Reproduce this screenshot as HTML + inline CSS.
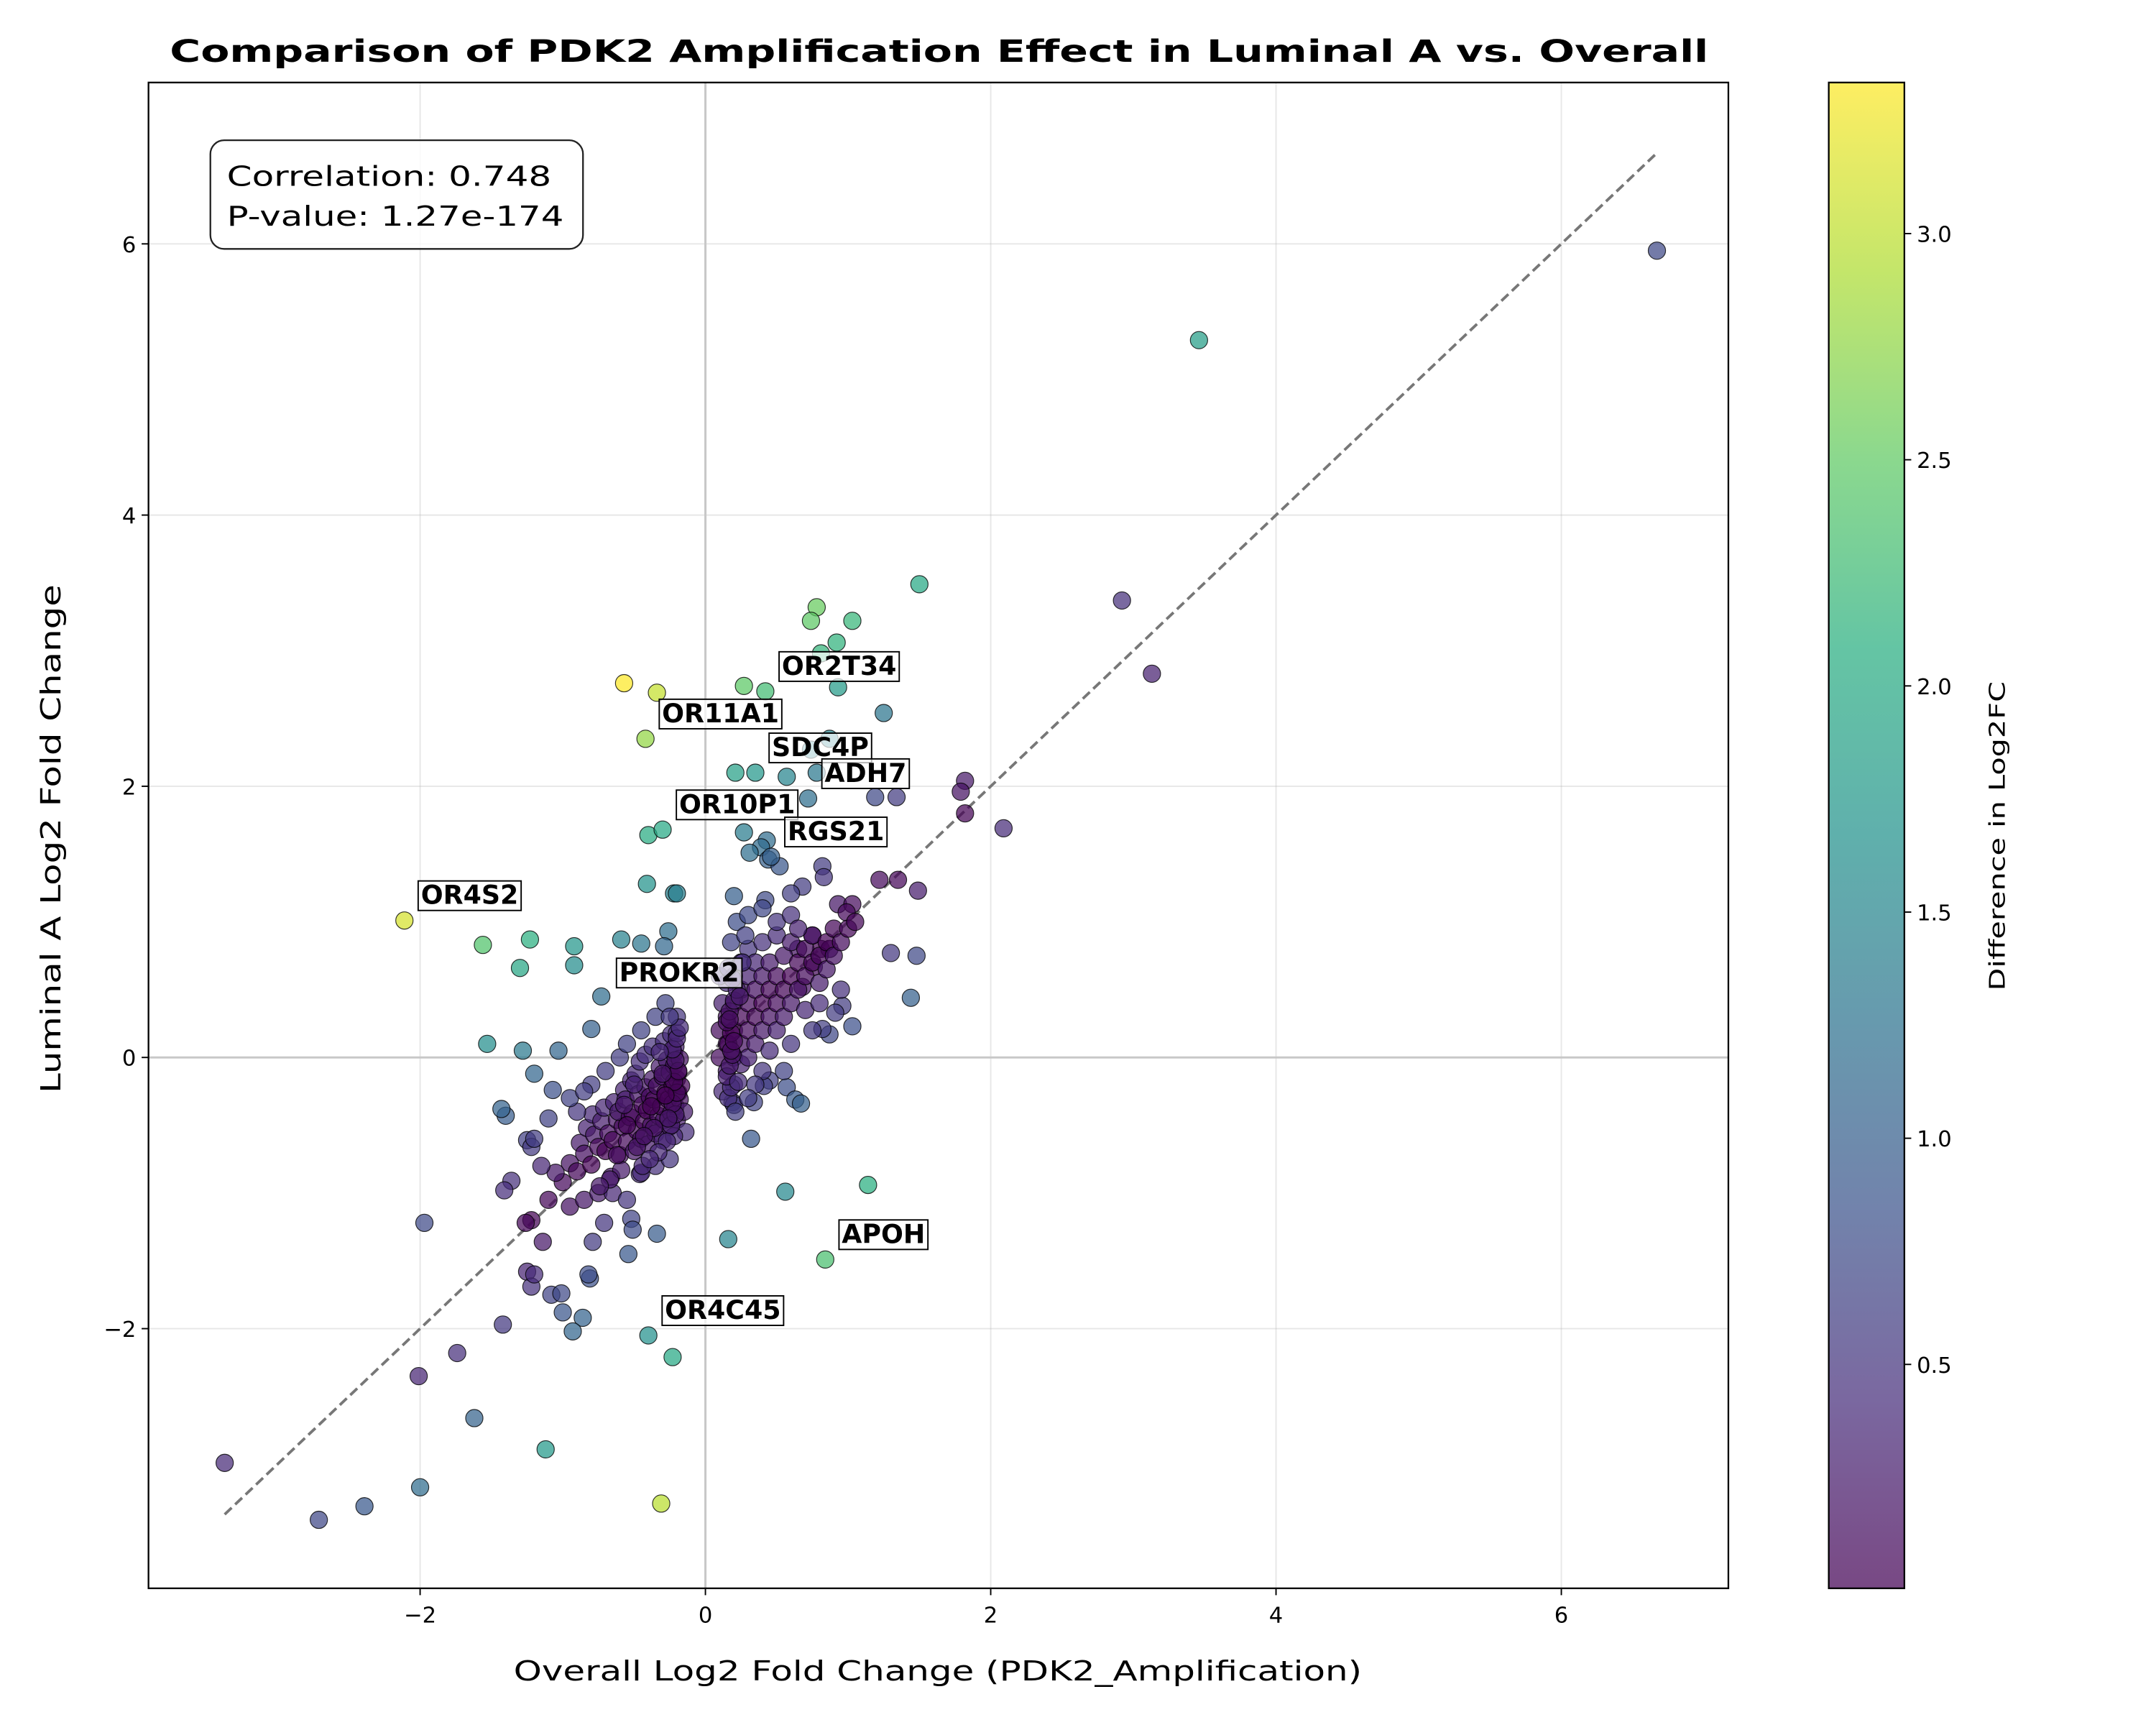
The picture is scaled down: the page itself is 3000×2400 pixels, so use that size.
<!DOCTYPE html>
<html><head><meta charset="utf-8">
<style>
html,body{margin:0;padding:0;background:#fff;}
svg{display:block;font-family:"DejaVu Sans","Liberation Sans",sans-serif;}
</style></head>
<body>
<svg id="chart" width="3000" height="2400" viewBox="0 0 1568 1254.4" xmlns="http://www.w3.org/2000/svg">
<rect x="0" y="0" width="1568" height="1254.4" fill="#fff"/>
<text x="683" y="45" font-size="22.5" font-weight="bold" text-anchor="middle" textLength="1119" lengthAdjust="spacingAndGlyphs">Comparison of PDK2 Amplification Effect in Luminal A vs. Overall</text>
<g id="grid"></g>
<g id="zero"></g>
<g id="diag"></g>
<g id="pts"></g>
<g id="labels"></g>
<rect x="108" y="60" width="1149" height="1095" fill="none" stroke="#000" stroke-width="1.2"/>
<g id="xticks"></g>
<g id="yticks"></g>
<text x="682" y="1222" font-size="20" text-anchor="middle" textLength="617" lengthAdjust="spacingAndGlyphs">Overall Log2 Fold Change (PDK2_Amplification)</text>
<text transform="translate(44,610) rotate(-90)" font-size="20" text-anchor="middle" textLength="370" lengthAdjust="spacingAndGlyphs">Luminal A Log2 Fold Change</text>
<g>
<rect x="153" y="102" width="271" height="79" rx="10" ry="10" fill="#fff" fill-opacity="0.8" stroke="#222" stroke-width="1.2"/>
<text x="165" y="135" font-size="20" textLength="236" lengthAdjust="spacingAndGlyphs">Correlation: 0.748</text>
<text x="165" y="164" font-size="20" textLength="245" lengthAdjust="spacingAndGlyphs">P-value: 1.27e-174</text>
</g>
<defs><linearGradient id="vir" x1="0" y1="1" x2="0" y2="0"></linearGradient></defs>
<g id="cbar"></g>
<text transform="translate(1458,608) rotate(-90)" font-size="16" text-anchor="middle" textLength="225" lengthAdjust="spacingAndGlyphs">Difference in Log2FC</text>
</svg>
<script>
// ---- data ----
const overallX = [6.67,3.46,2.92,3.13,2.09,1.82,1.79,1.82,1.50,1.03,0.78,0.74,0.92,0.81,0.93,0.27,0.42,-0.57,-0.34,-0.42,1.25,0.87,0.74,0.21,0.35,0.57,0.78,1.19,1.34,0.27,0.43,0.39,0.31,-0.40,-0.30,0.44,0.52,0.82,0.83,0.68,0.60,0.42,0.20,-0.41,-0.22,-0.20,1.22,1.35,1.49,0.93,1.03,-2.11,-1.56,-1.23,-1.30,-0.92,-0.92,-0.59,-0.26,-0.29,-0.45,1.30,1.48,1.44,1.03,-0.73,-0.80,-1.53,-1.28,-1.03,-1.20,-1.07,-1.40,-1.43,-1.25,-1.22,-1.36,-1.41,-1.22,-1.26,-1.14,-1.97,-1.25,-1.22,-1.20,-1.08,-1.01,-1.00,-0.86,-0.93,-0.81,-0.82,-0.79,-0.71,-0.52,-0.51,-0.54,-0.34,-1.42,-1.74,-2.01,-1.62,-1.12,-2.00,-3.37,-2.71,-2.39,-0.31,-0.40,-0.23,0.16,0.56,1.14,0.84,0.32,0.57,0.63,0.67,0.45,0.41,0.19,0.34,0.87,0.82,0.96,0.91,0.68,0.65,0.76,0.81,0.75,0.87,0.99,0.72,0.46,
-1.0,-0.95,-0.9,-0.88,-0.85,-0.83,-0.8,-0.78,-0.79,-0.75,-0.73,-0.7,-0.68,-0.71,-0.66,-0.65,-0.62,-0.64,-0.6,-0.58,-0.61,-0.57,-0.59,-0.55,-0.53,-0.56,-0.52,-0.5,-0.48,-0.51,-0.47,-0.49,-0.46,-0.45,-0.43,-0.44,-0.42,-0.46,-0.4,-0.38,-0.41,-0.39,-0.37,-0.42,-0.35,-0.33,-0.36,-0.34,-0.32,-0.37,-0.3,-0.29,-0.31,-0.28,-0.3,-0.27,-0.29,-0.25,-0.24,-0.26,-0.23,-0.25,-0.22,-0.24,-0.2,-0.21,-0.19,-0.2,-0.22,-0.21,-0.18,-0.17,-0.19,-0.18,-0.2,-0.14,-0.15,-1.1,-1.05,-1.15,-0.95,-0.85,-0.75,-0.65,-0.55,-0.45,-0.35,-0.25,-0.9,-0.8,-0.7,-0.6,-0.55,-0.45,-0.35,-0.28,-0.2,-1.2,-1.1,-0.95,-0.85,
-0.22,-0.24,-0.21,-0.23,-0.2,-0.22,-0.19,-0.21,-0.23,-0.2,-0.18,-0.25,-0.27,-0.26,-0.28,-0.3,-0.32,-0.33,-0.36,-0.38,-0.44,-0.48,-0.55,-0.62,-0.67,-0.74,-0.57,-0.5,-0.43,-0.39,
0.1,0.1,0.12,0.15,0.15,0.15,0.15,0.2,0.2,0.2,0.2,0.2,0.25,0.25,0.25,0.25,0.25,0.3,0.3,0.3,0.3,0.3,0.35,0.35,0.35,0.35,0.4,0.4,0.4,0.4,0.4,0.45,0.45,0.45,0.5,0.5,0.5,0.5,0.55,0.55,0.55,0.6,0.6,0.6,0.6,0.65,0.65,0.7,0.7,0.7,0.75,0.75,0.8,0.8,0.85,0.85,0.9,0.9,0.95,1.0,1.05,0.18,0.22,0.3,0.4,0.5,0.6,0.65,0.75,0.8,0.95,0.55,0.45,0.35,0.2,0.3,0.12,0.1,0.28,
0.16,0.18,0.15,0.17,0.19,0.16,0.18,0.15,0.17,0.2,0.22,0.19,0.16,0.21,0.23,0.18,0.17,0.2,0.24,0.26];
const luminalY = [5.95,5.29,3.37,2.83,1.69,2.04,1.96,1.80,3.49,3.22,3.32,3.22,3.06,2.98,2.73,2.74,2.70,2.76,2.69,2.35,2.54,2.35,2.27,2.10,2.10,2.07,2.10,1.92,1.92,1.66,1.60,1.55,1.51,1.64,1.68,1.46,1.41,1.41,1.33,1.26,1.21,1.16,1.19,1.28,1.21,1.21,1.31,1.31,1.23,1.13,1.13,1.01,0.83,0.87,0.66,0.82,0.68,0.87,0.93,0.82,0.84,0.77,0.75,0.44,0.23,0.45,0.21,0.10,0.05,0.05,-0.12,-0.24,-0.43,-0.38,-0.61,-0.66,-0.91,-0.98,-1.20,-1.22,-1.36,-1.22,-1.58,-1.69,-1.60,-1.75,-1.74,-1.88,-1.92,-2.02,-1.63,-1.60,-1.36,-1.22,-1.19,-1.27,-1.45,-1.30,-1.97,-2.18,-2.35,-2.66,-2.89,-3.17,-2.99,-3.41,-3.31,-3.29,-2.05,-2.21,-1.34,-0.99,-0.94,-1.49,-0.60,-0.22,-0.31,-0.34,-0.17,-0.21,-0.33,-0.33,0.17,0.21,0.38,0.33,0.52,0.80,0.67,0.80,0.90,0.80,1.07,1.91,1.48,
-0.92,-0.78,-0.84,-0.63,-0.71,-0.52,-0.79,-0.57,-0.42,-0.66,-0.47,-0.69,-0.56,-0.37,-0.88,-0.61,-0.46,-0.33,-0.72,-0.51,-0.4,-0.24,-0.83,-0.62,-0.44,-0.31,-0.17,-0.69,-0.54,-0.41,-0.27,-0.12,-0.86,-0.6,-0.47,-0.35,-0.22,-0.03,-0.64,-0.5,-0.39,-0.29,-0.16,0.02,-0.56,-0.43,-0.31,-0.21,-0.07,0.08,-0.61,-0.46,-0.36,-0.26,-0.14,-0.02,0.12,-0.51,-0.41,-0.31,-0.21,-0.11,0.03,0.17,-0.46,-0.36,-0.26,-0.16,-0.06,0.08,-0.31,-0.21,-0.11,-0.01,0.18,-0.55,-0.4,-1.05,-0.85,-0.8,-1.1,-1.05,-1.0,-1.0,-1.05,-0.85,-0.8,-0.75,-0.4,-0.2,-0.1,0.0,0.1,0.2,0.3,0.4,0.3,-0.6,-0.45,-0.3,-0.25,
-0.58,-0.5,-0.42,-0.34,-0.26,-0.18,-0.1,-0.02,0.06,0.14,0.22,0.3,-0.62,-0.45,-0.28,-0.12,0.04,-0.7,-0.52,-0.36,-0.8,-0.66,-0.5,-0.72,-0.9,-0.95,-0.35,-0.2,-0.58,-0.75,
0.0,0.2,0.4,-0.1,0.1,0.3,0.55,0.0,0.2,0.4,0.6,-0.2,0.1,0.3,0.5,0.7,-0.05,0.0,0.2,0.4,0.6,0.8,0.1,0.3,0.5,0.7,0.2,0.4,0.6,0.85,-0.1,0.3,0.5,0.7,0.2,0.4,0.6,0.9,0.3,0.5,0.75,0.4,0.6,0.85,0.1,0.5,0.7,0.6,0.8,0.35,0.7,0.9,0.75,0.55,0.85,0.65,0.95,0.75,0.85,0.95,1.0,0.85,1.0,1.05,1.1,1.0,1.05,0.95,0.2,0.4,0.5,-0.1,0.05,-0.2,-0.35,-0.3,-0.25,0.6,0.9,
-0.3,-0.22,-0.14,-0.06,0.02,0.1,0.18,0.26,0.34,0.42,0.5,0.58,0.66,-0.4,-0.18,0.05,0.28,0.12,0.45,0.7];
const geneNames = ["OR2T34","OR11A1","SDC4P","ADH7","OR10P1","RGS21","OR4S2","PROKR2","APOH","OR4C45"];
const geneX = [0.42,-0.42,0.35,0.72,-0.30,0.46,-2.11,-0.72,0.84,-0.40];
const geneY = [2.70,2.35,2.10,1.91,1.68,1.48,1.01,0.44,-1.49,-2.05];
const xTicks = [-2,0,2,4,6];
const yTicks = [-2,0,2,4,6];
const cbTicks = [0.5,1.0,1.5,2.0,2.5,3.0];

// ---- axes ----
const L=108,R=1257,T=60,B=1155;
const xMin=-3.904,xMax=7.171,yMin=-3.915,yMax=7.19;
const sx=v=>L+(v-xMin)/(xMax-xMin)*(R-L);
const sy=v=>B-(v-yMin)/(yMax-yMin)*(B-T);
const cbL=1330,cbR=1385,cbMin=0.005,cbMax=3.334;
const cy=v=>B-(v-cbMin)/(cbMax-cbMin)*(B-T);
const NS="http://www.w3.org/2000/svg";
function mk(tag,attrs,parent){const e=document.createElementNS(NS,tag);for(const k in attrs)e.setAttribute(k,attrs[k]);parent.appendChild(e);return e;}
const stops=[[0,68,1,84],[0.125,71,45,123],[0.25,59,82,139],[0.375,44,114,142],[0.5,33,145,140],[0.625,40,174,128],[0.75,94,201,98],[0.875,173,220,48],[1,253,231,37]];
function viridis(t){t=Math.max(0,Math.min(1,t));for(let i=1;i<stops.length;i++){if(t<=stops[i][0]){const a=stops[i-1],b=stops[i];const f=(t-a[0])/(b[0]-a[0]);return `rgb(${Math.round(a[1]+f*(b[1]-a[1]))},${Math.round(a[2]+f*(b[2]-a[2]))},${Math.round(a[3]+f*(b[3]-a[3]))})`;}}return "rgb(253,231,37)";}

const grid=document.getElementById('grid');
xTicks.forEach(v=>{const l=mk('line',{x1:sx(v),x2:sx(v),y1:T,y2:B,stroke:'#b0b0b0','stroke-opacity':0.3,'stroke-width':1},grid);

});
yTicks.forEach(v=>{const l=mk('line',{x1:L,x2:R,y1:sy(v),y2:sy(v),stroke:'#b0b0b0','stroke-opacity':0.3,'stroke-width':1},grid);

});
const zero=document.getElementById('zero');
const zx=mk('line',{x1:sx(0),x2:sx(0),y1:T,y2:B,stroke:'#c8c8c8','stroke-width':1.6},zero);


const zy=mk('line',{x1:L,x2:R,y1:sy(0),y2:sy(0),stroke:'#c8c8c8','stroke-width':1.6},zero);



const lo=Math.min(...overallX),hi=Math.max(...overallX);
const dl=mk('line',{x1:sx(lo),y1:sy(lo),x2:sx(hi),y2:sy(hi),stroke:'#777','stroke-width':2,'stroke-dasharray':'7,3.5'},document.getElementById('diag'));



const pts=document.getElementById('pts');
overallX.forEach((x,i)=>{const y=luminalY[i];const d=Math.abs(y-x);
const c=mk('circle',{cx:sx(x),cy:sy(y),r:6.3,fill:viridis((d-cbMin)/(cbMax-cbMin)),'fill-opacity':0.72,stroke:'#000','stroke-opacity':0.8,'stroke-width':0.6},pts);

});

const lab=document.getElementById('labels');
geneNames.forEach((n,i)=>{const px=sx(geneX[i])+12,py=sy(geneY[i])-12;
const g=mk('g',{},lab);


const t=mk('text',{x:px,y:py,'font-size':19,'font-weight':'bold'},g);t.textContent=n;
const bb=t.getBBox();
const r=mk('rect',{x:bb.x-2,y:bb.y+1,width:bb.width+4,height:bb.height-1,fill:'#fff','fill-opacity':0.7,stroke:'#000','stroke-width':1},g);
g.insertBefore(r,t);});

const xt=document.getElementById('xticks');
xTicks.forEach(v=>{mk('line',{x1:sx(v),x2:sx(v),y1:B,y2:B+5,stroke:'#000','stroke-width':1},xt);
const t=mk('text',{x:sx(v),y:B+25,'font-size':16,'text-anchor':'middle'},xt);t.textContent=v<0?'\u2212'+(-v):String(v);

});
const yt=document.getElementById('yticks');
yTicks.forEach(v=>{mk('line',{x1:L-5,x2:L,y1:sy(v),y2:sy(v),stroke:'#000','stroke-width':1},yt);
const t=mk('text',{x:L-9,y:sy(v)+6,'font-size':16,'text-anchor':'end'},yt);t.textContent=v<0?'\u2212'+(-v):String(v);

});

const grad=document.getElementById('vir');
for(let i=0;i<=16;i++){mk('stop',{offset:(i/16),'stop-color':viridis(i/16),'stop-opacity':0.72},grad);}
const cb=document.getElementById('cbar');
mk('rect',{x:cbL,y:T,width:cbR-cbL,height:B-T,fill:'url(#vir)',stroke:'#000','stroke-width':1.2},cb);
cbTicks.forEach(v=>{mk('line',{x1:cbR,x2:cbR+5,y1:cy(v),y2:cy(v),stroke:'#000','stroke-width':1},cb);
const t=mk('text',{x:cbR+9,y:cy(v)+6,'font-size':16},cb);t.textContent=v.toFixed(1);

});
</script>
</body></html>
